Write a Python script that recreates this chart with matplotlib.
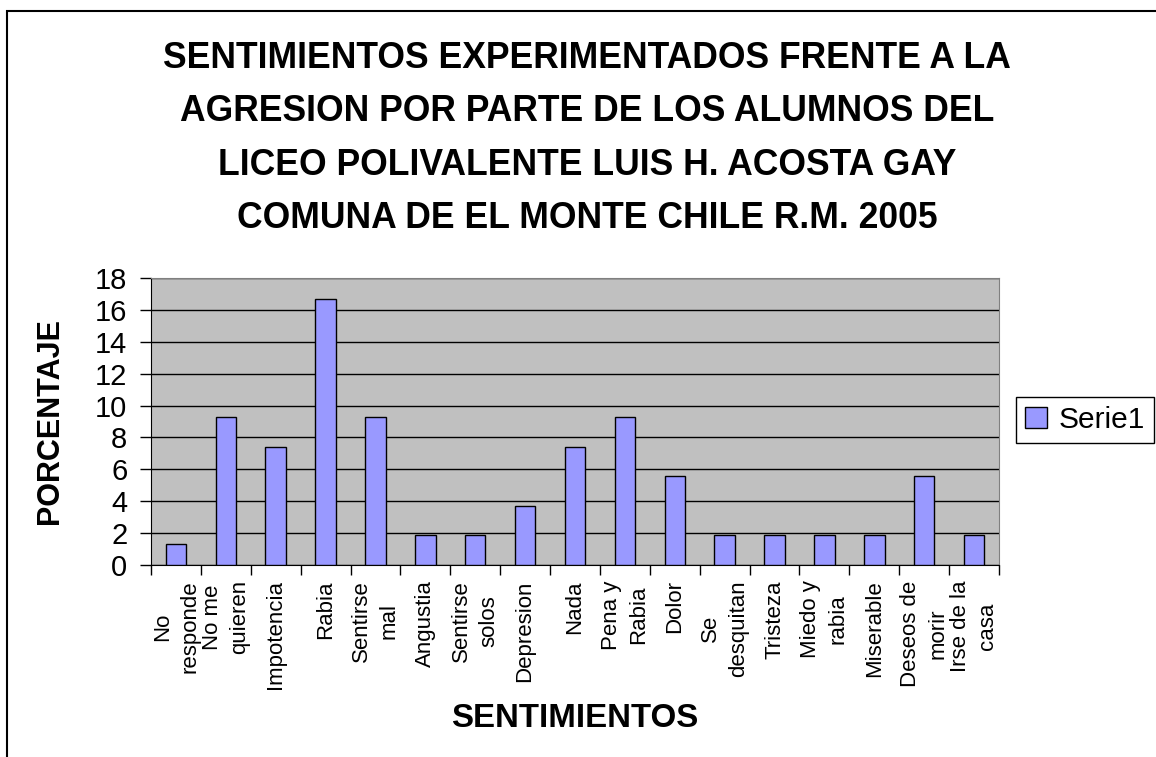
import matplotlib
matplotlib.use('Agg')
import matplotlib.pyplot as plt
from matplotlib.patches import Rectangle
import numpy as np

plt.rcParams['font.family'] = ['Liberation Sans', 'DejaVu Sans']

categorias = ['No\nresponde', 'No me\nquieren', 'Impotencia', 'Rabia', 'Sentirse\nmal',
              'Angustia', 'Sentirse\nsolos', 'Depresion', 'Nada', 'Pena y\nRabia',
              'Dolor', 'Se\ndesquitan', 'Tristeza', 'Miedo y\nrabia', 'Miserable',
              'Deseos de\nmorir', 'Irse de la\ncasa']
porcentajes = [1.3, 9.3, 7.4, 16.7, 9.3, 1.9, 1.9, 3.7, 7.4, 9.3,
               5.6, 1.9, 1.9, 1.9, 1.9, 5.6, 1.9]
yticks = [0, 2, 4, 6, 8, 10, 12, 14, 16, 18]

titulo = ('SENTIMIENTOS EXPERIMENTADOS FRENTE A LA\n'
          'AGRESION POR PARTE DE LOS ALUMNOS DEL\n'
          'LICEO POLIVALENTE LUIS H. ACOSTA GAY\n'
          'COMUNA DE EL MONTE CHILE R.M. 2005')

fig = plt.figure(figsize=(11.56, 7.57), dpi=100)
ax = fig.add_axes([0.1306, 0.2536, 0.7336, 0.3792])

x = np.arange(len(categorias))
ax.bar(x, porcentajes, width=0.41, color='#9999FF', edgecolor='black',
       linewidth=1, zorder=3, label='Serie1')

ax.set_facecolor('#C0C0C0')
ax.set_xlim(-0.5, len(categorias) - 0.5)
ax.set_ylim(0, 18)
ax.set_yticks(yticks)
ax.tick_params(axis='y', labelsize=21, length=8, width=1, pad=9, direction='out')
ax.yaxis.grid(True, color='black', linewidth=1, zorder=1)

ax.set_xticks(x)
ax.set_xticklabels(categorias, rotation=90, multialignment='center', fontsize=16,
                   linespacing=1.4)
ax.tick_params(axis='x', length=0, pad=11)
ax.set_xticks(np.arange(len(categorias) + 1) - 0.5, minor=True)
ax.tick_params(axis='x', which='minor', length=7, width=1, direction='out')

for lado in ['top', 'right']:
    ax.spines[lado].set_color('#808080')
for lado in ['left', 'bottom']:
    ax.spines[lado].set_color('black')

fig.text(0.508, 0.946, titulo, ha='center', va='top', fontsize=25.6,
         fontweight='bold', linespacing=1.68)
fig.text(0.0433, 0.444, 'PORCENTAJE', rotation=90, ha='center', va='center',
         fontsize=22, fontweight='bold')
fig.text(0.497, 0.0396, 'SENTIMIENTOS', ha='center', va='baseline',
         fontsize=23.8, fontweight='bold')

leg = ax.legend(loc='center left', bbox_to_anchor=(1016 / 1156, 1 - 420 / 757),
                bbox_transform=fig.transFigure, fontsize=21.5, frameon=True,
                fancybox=False, edgecolor='black', framealpha=1,
                handlelength=0.73, handleheight=0.73, handletextpad=0.4,
                borderpad=0.3, borderaxespad=0)
leg.get_frame().set_linewidth(1)

fig.add_artist(Rectangle((7 / 1156, -0.1), 1.2, 1 - 11 / 757 + 0.1,
                         transform=fig.transFigure, fill=False,
                         edgecolor='black', linewidth=1.5))

fig.savefig('out.png', dpi=100)
